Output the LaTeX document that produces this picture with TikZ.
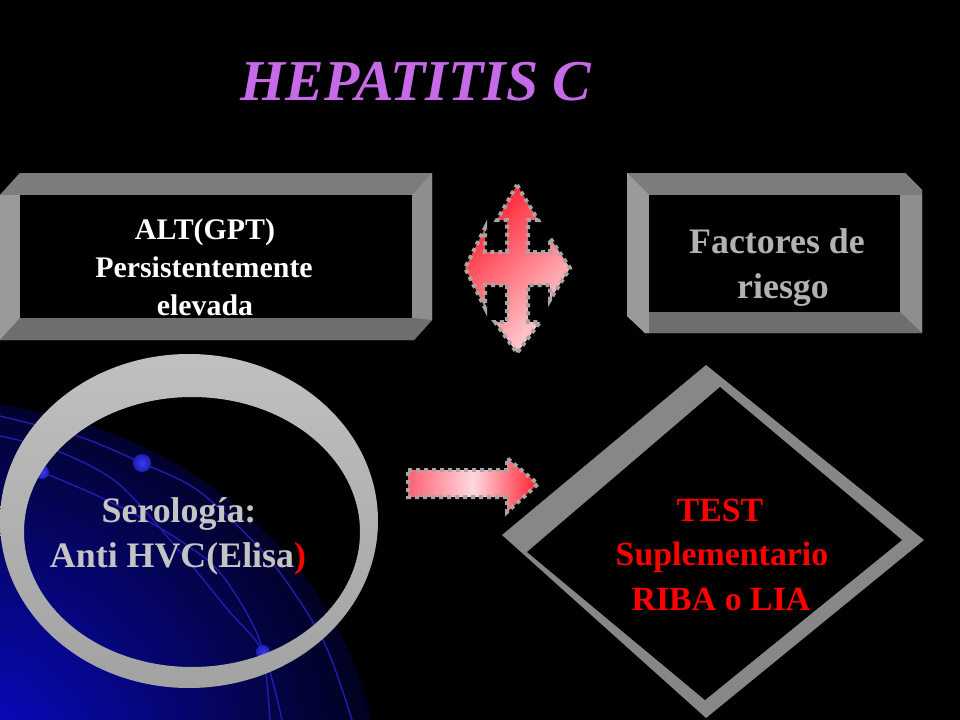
\documentclass[tikz,border=0pt]{standalone}
\usepackage{fontspec}
\setmainfont{Liberation Serif}
\definecolor{bandtop}{HTML}{7C7C7C}
\definecolor{bandlight}{HTML}{9A9A9A}
\definecolor{bandright}{HTML}{8E8E8E}
\definecolor{banddark}{HTML}{6E6E6E}
\definecolor{bandmid}{HTML}{858585}
\definecolor{diamondgray}{HTML}{878787}
\definecolor{ringtop}{HTML}{C0C0C0}
\definecolor{ringbot}{HTML}{A2A2A2}
\definecolor{softgray}{HTML}{B2B2B2}
\definecolor{serogray}{HTML}{C4C4C4}
\definecolor{arrowred}{HTML}{FF1F2F}
\definecolor{arrowpale}{HTML}{FFD8DE}
\definecolor{arrowpink}{HTML}{FF6273}
\definecolor{dotgray}{HTML}{A6A6A6}
\definecolor{orbitblue}{HTML}{1E1EB4}
\definecolor{dotblue}{HTML}{3A3AF0}
\definecolor{glowblue}{HTML}{0A0AD0}
\definecolor{titlepurple}{HTML}{C76AE8}

\begin{document}
\begin{tikzpicture}[x=1bp,y=-1bp,
	boxline/.style={anchor=base, text=white, font=\bfseries\fontsize{30}{36}\selectfont},
	bigline/.style={anchor=base, font=\bfseries\fontsize{36}{42}\selectfont},
	testline/.style={anchor=base, text=red, font=\bfseries\fontsize{34}{40}\selectfont},
	titletext/.style={font=\bfseries\itshape\fontsize{58}{60}\selectfont},
	orbit/.style={draw=orbitblue, line width=1.4bp},
	dotline/.style={draw=dotgray, line width=4bp, dash pattern=on 4bp off 4bp}]
	\tikzstyle{every node}+=[inner sep=0pt]
	\useasboundingbox (0,0) rectangle (960,720);
	\fill [black] (0,0) rectangle (960,720);
	% blue glow and orbits
	\begin{scope}
		\clip (0,405) .. controls (190,430) and (335,560) .. (372,720) -- (0,720) -- cycle;
		\shade [inner color=glowblue, outer color=black] (-30,770) circle (470);
	\end{scope}
	\draw [orbit] plot [smooth] coordinates {(0,416) (80,437) (142,463) (200,492) (270,560) (323,640) (352,720)};
	\draw [orbit] plot [smooth] coordinates {(0,436) (60,452) (120,485) (187,560) (228,610) (263,652) (282,720)};
	\draw [orbit] plot [smooth] coordinates {(18,462) (42,472) (100,497) (160,528) (213,565) (245,610) (263,652) (270,720)};
	\shade [inner color=dotblue, outer color=orbitblue] (142,463) circle (9);
	\shade [inner color=dotblue, outer color=orbitblue] (42,472) circle (7);
	\shade [inner color=dotblue, outer color=orbitblue] (263,652) circle (7);
	% ring
	\shade [even odd rule, top color=ringtop, bottom color=ringbot] (189,521) ellipse [x radius=189, y radius=167] (192,532) ellipse [x radius=168, y radius=135];
	\node (sero1) [bigline, text=serogray] at (179,522) {Serología:};
	\node (sero2) [bigline, text=serogray] at (178,567) {Anti HVC(Elisa{\color{red})}};
	% left box
	\fill [bandmid] (0,195) -- (20,173) -- (432,173) -- (432,320) -- (414,340) -- (0,340) -- cycle;
	\fill [bandtop] (0,195) -- (20,173) -- (432,173) -- (412,195) -- cycle;
	\fill [bandlight] (0,195) -- (20,195) -- (20,318) -- (0,340) -- cycle;
	\fill [bandright] (412,195) -- (432,173) -- (432,320) -- (412,318) -- cycle;
	\fill [banddark] (0,340) -- (20,318) -- (412,318) -- (432,320) -- (414,340) -- cycle;
	\fill [black] (20,195) rectangle (412,318);
	\node (alt1) [boxline] at (205,239) {ALT(GPT)};
	\node (alt2) [boxline] at (204,277) {Persistentemente};
	\node (alt3) [boxline] at (205,315) {elevada};
	% right box
	\fill [bandmid] (627,173) -- (905,173) -- (922,190) -- (922,333) -- (645,333) -- (627,316) -- cycle;
	\fill [bandtop] (627,173) -- (905,173) -- (922,190) -- (922,195) -- (649,195) -- cycle;
	\fill [bandlight] (627,173) -- (649,195) -- (649,333) -- (645,333) -- (627,316) -- cycle;
	\fill [bandright] (900,195) -- (922,195) -- (922,333) -- (900,312) -- cycle;
	\fill [banddark] (649,312) -- (900,312) -- (922,333) -- (649,333) -- cycle;
	\fill [black] (649,195) rectangle (900,312);
	\node (risk1) [bigline, text=softgray] at (777,253) {Factores de};
	\node (risk2) [bigline, text=softgray] at (783,298) {riesgo};
	% four way arrow
	\shadedraw [dotline, top color=arrowred, bottom color=arrowpale, shading angle=45]
		(517,185) -- (538,220) -- (528,220) -- (528,252) -- (550,252) -- (550,238) -- (570,268)
		-- (550,300) -- (550,285) -- (528,285) -- (528,322) -- (540,322) -- (517,353) -- (495,322)
		-- (507,322) -- (507,285) -- (485,285) -- (485,308) -- (465,268) -- (485,228) -- (485,252)
		-- (507,252) -- (507,220) -- (497,220) -- cycle;
	% right arrow
	\shadedraw [dotline, left color=arrowpink, right color=arrowred, middle color=arrowpale]
		(408,470) -- (507,470) -- (507,458) -- (538,484) -- (507,512) -- (507,497) -- (408,497) -- cycle;
	% diamond
	\fill [diamondgray] (706,365) -- (924,540) -- (706,718) -- (502,535) -- cycle;
	\fill [black] (720,387) -- (902,540) -- (705,700) -- (527,552) -- cycle;
	\node (test1) [testline] at (720,521) {TEST};
	\node (test2) [testline] at (722,565) {Suplementario};
	\node (test3) [testline] at (721,610) {RIBA o LIA};
	% title
	\node (title) [titletext, text=titlepurple] at (416,82) {HEPATITIS C};
\end{tikzpicture}
\end{document}
